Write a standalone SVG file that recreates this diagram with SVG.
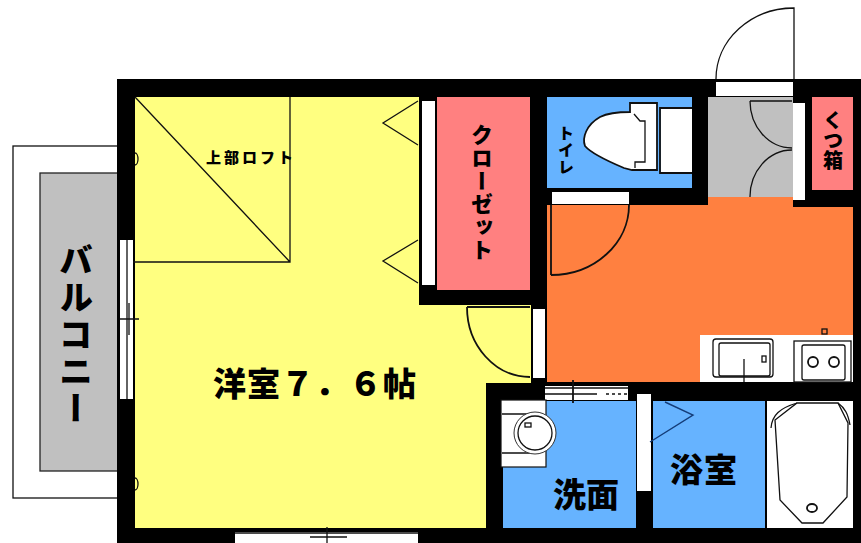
<svg xmlns="http://www.w3.org/2000/svg" width="861" height="543" viewBox="0 0 861 543">
<style>
.ln{fill:none;stroke:#111;stroke-width:1.3}
.th{fill:none;stroke:#111;stroke-width:1.8}
.wh{fill:#fff;stroke:none}
.w2{fill:#fff;stroke:#111;stroke-width:1.3}
text{font-family:"Noto Sans CJK JP","Noto Sans",sans-serif;font-weight:900;fill:#000}
.v{writing-mode:vertical-rl;text-anchor:start}
</style>
<rect width="861" height="543" fill="#fff"/>
<g id="balcony">
<rect x="13" y="146" width="105" height="352" class="w2"/>
<rect x="40" y="173" width="78" height="298" fill="#c0c0c0" stroke="#222" stroke-width="1.3"/>
<text class="v" x="76" y="243" font-size="34" letter-spacing="3">バルコニー</text>
</g>
<path id="walls" d="M117 79H861V543H117Z" fill="#000"/>
<g id="western-room">
<path d="M135 97H419V305H531V383H486V528H135Z" fill="#ffff80"/>
<path class="ln" d="M135 97L290 262M290 97V262H126"/>
<path class="ln" d="M418 101L383 123L418 145M418 240L383 261L418 283"/>
<path class="ln" d="M135 153a3 6 0 0 1 0 12M135 478a3 6 0 0 1 0 12"/>
<path class="th" d="M467 307H530M467 307A63 70 0 0 0 530 377"/>
<text x="206" y="163" font-size="15" letter-spacing="3">上部ロフト</text>
<text x="213" y="396" font-size="33" letter-spacing="1">洋室７．６帖</text>
</g>
<g id="windows">
<rect x="120" y="240" width="13" height="159" class="wh"/>
<path class="ln" d="M127 240V399M129 303V335M120 319H139"/>
<rect x="235" y="532" width="183" height="11" class="wh"/>
<path class="ln" d="M327 527V543M310 537H347M235 533H418"/>
</g>
<g id="closet">
<rect x="437" y="97" width="93" height="193" fill="#ff8080"/>
<rect x="422" y="101" width="13" height="184" class="wh"/>
<text class="v" x="482" y="124" font-size="22" letter-spacing="1">クローゼット</text>
</g>
<g id="toilet">
<rect x="547" y="97" width="145" height="91" fill="#66b3ff"/>
<rect x="661" y="108" width="31" height="65" class="wh"/>
<path class="th" d="M692 108H660V173H692"/>
<path d="M630 112V103H657V170H632L624 168C605 160 590 152 585 146C582 138 586 125 600 117C610 112 622 112 630 112Z" fill="#fff" stroke="#111" stroke-width="1.8"/>
<path class="ln" d="M634 114L640 121H645V162H635V168"/>
<text class="v" x="566" y="125" font-size="16" letter-spacing="1">トイレ</text>
</g>
<g id="entrance">
<rect x="708" y="97" width="85" height="100" fill="#c0c0c0"/>
<rect x="716" y="82" width="77" height="14" class="wh"/>
<rect x="793" y="103" width="12" height="97" class="wh"/>
<path class="ln" d="M716 79A78 71 0 0 1 794 8V79"/>
<path class="ln" d="M750 101H792M750 101A42 47 0 0 0 792 148M750 198A42 47 0 0 1 792 150M751 200H792"/>
</g>
<g id="shoe-closet">
<rect x="812" y="97" width="41" height="93" fill="#ff8080"/>
<text class="v" x="833" y="110" font-size="20">くつ箱</text>
</g>
<g id="kitchen">
<path d="M547 205H708V197H793V207H853V382H547Z" fill="#ff8040"/>
<rect x="552" y="192" width="77" height="12" class="wh"/>
<path class="th" d="M551 205V275M629 205A78 70 0 0 1 551 275"/>
<rect x="533" y="309" width="12" height="69" class="wh"/>
<rect x="700" y="335" width="153" height="47" class="wh"/>
<rect x="713" y="339" width="60" height="38" rx="3" class="ln"/>
<rect x="719" y="343" width="51" height="33" rx="2" class="ln"/>
<path class="ln" d="M744 359V382"/>
<rect x="762" y="356" width="4" height="6" class="ln"/>
<rect x="794" y="341" width="57" height="41" class="ln"/>
<rect x="802" y="345" width="43" height="35" rx="2" class="ln"/>
<circle cx="813" cy="362" r="5" class="th"/>
<circle cx="834" cy="362" r="5" class="th"/>
<rect x="822" y="329" width="5" height="5" class="ln"/>
</g>
<g id="washroom">
<rect x="503" y="401" width="133" height="127" fill="#66b3ff"/>
<rect x="545" y="386" width="83" height="14" class="wh"/>
<path class="ln" d="M545 388H628M545 394H597"/>
<path d="M606 394H628" fill="none" stroke="#111" stroke-width="1.3" stroke-dasharray="3 3"/>
<path class="th" d="M573 380V403"/>
<rect x="501" y="400" width="45" height="67" fill="#fff" stroke="#111" stroke-width="1.2"/>
<path class="ln" d="M502 414H530M502 453H530"/>
<circle cx="535" cy="433" r="21" fill="#fff" stroke="#333" stroke-width="1"/>
<circle cx="535" cy="433" r="17" class="ln"/>
<rect x="525" y="423" width="6" height="4" class="ln"/>
<text x="553" y="507" font-size="33">洗面</text>
</g>
<g id="bathroom">
<rect x="653" y="401" width="112" height="127" fill="#66b3ff"/>
<rect x="767" y="401" width="86" height="127" class="wh"/>
<rect x="637" y="394" width="14" height="97" class="wh"/>
<path d="M665 402L693 415L650 442" fill="none" stroke="#143c78" stroke-width="1.4"/>
<path class="ln" d="M797 403H838L848 423L847 497L823 523H802L780 500L775 420Z"/>
<path class="ln" d="M771 428C772 415 780 408 797 403M838 403C845 408 848 414 850 425"/>
<ellipse cx="812" cy="508" rx="5" ry="4" class="th"/>
<text x="670" y="482" font-size="33" letter-spacing="1">浴室</text>
</g>
</svg>
